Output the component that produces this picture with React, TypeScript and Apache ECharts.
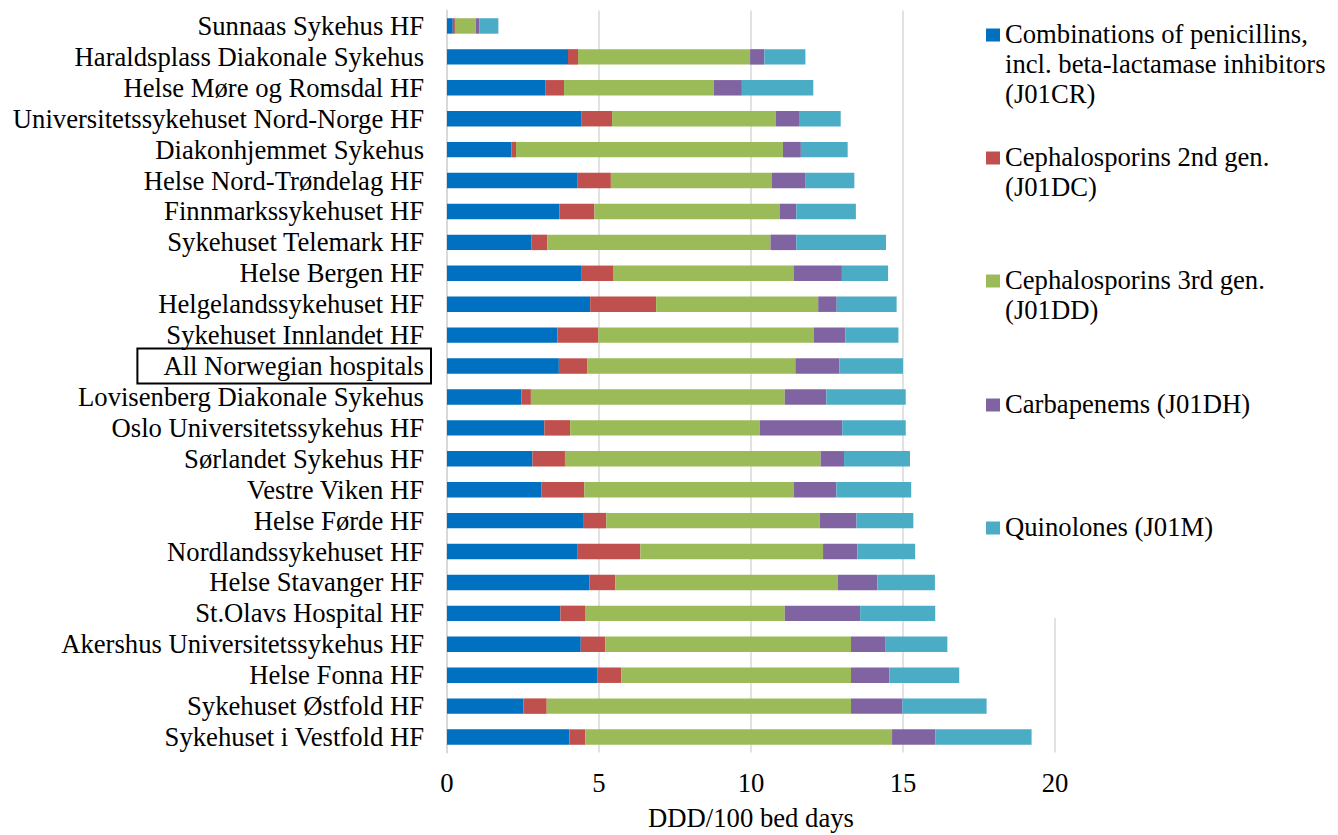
import React, { useEffect, useRef } from "react";
import * as echarts from "echarts";

const categories = [
  "Sunnaas Sykehus HF",
  "Haraldsplass Diakonale Sykehus",
  "Helse Møre og Romsdal HF",
  "Universitetssykehuset Nord-Norge HF",
  "Diakonhjemmet Sykehus",
  "Helse Nord-Trøndelag HF",
  "Finnmarkssykehuset HF",
  "Sykehuset Telemark HF",
  "Helse Bergen HF",
  "Helgelandssykehuset HF",
  "Sykehuset Innlandet HF",
  "All Norwegian hospitals",
  "Lovisenberg Diakonale Sykehus",
  "Oslo Universitetssykehus HF",
  "Sørlandet Sykehus HF",
  "Vestre Viken HF",
  "Helse Førde HF",
  "Nordlandssykehuset HF",
  "Helse Stavanger HF",
  "St.Olavs Hospital HF",
  "Akershus Universitetssykehus HF",
  "Helse Fonna HF",
  "Sykehuset Østfold HF",
  "Sykehuset i Vestfold HF",
];

const j01cr = [0.19, 3.98, 3.23, 4.43, 2.12, 4.3, 3.7, 2.77, 4.41, 4.71, 3.63, 3.68, 2.45, 3.2, 2.81, 3.1, 4.5, 4.3, 4.68, 3.73, 4.4, 4.94, 2.51, 4.03];
const j01dc = [0.07, 0.33, 0.62, 1.0, 0.15, 1.09, 1.15, 0.53, 1.05, 2.17, 1.35, 0.93, 0.31, 0.85, 1.07, 1.42, 0.74, 2.06, 0.86, 0.81, 0.81, 0.79, 0.77, 0.52];
const j01dd = [0.69, 5.66, 4.92, 5.38, 8.78, 5.3, 6.09, 7.34, 5.94, 5.33, 7.08, 6.85, 8.35, 6.24, 8.41, 6.89, 7.02, 6.01, 7.32, 6.57, 8.08, 7.56, 10.01, 10.09];
const j01dh = [0.11, 0.47, 0.93, 0.77, 0.59, 1.09, 0.55, 0.85, 1.59, 0.61, 1.04, 1.45, 1.37, 2.71, 0.77, 1.4, 1.21, 1.13, 1.3, 2.48, 1.14, 1.26, 1.69, 1.42];
const j01m = [0.63, 1.35, 2.35, 1.37, 1.54, 1.62, 1.96, 2.95, 1.52, 1.97, 1.75, 2.09, 2.61, 2.09, 2.17, 2.46, 1.87, 1.9, 1.89, 2.47, 2.03, 2.3, 2.77, 3.17];

const seriesNames = [
  "Combinations of penicillins,\nincl. beta-lactamase inhibitors\n(J01CR)",
  "Cephalosporins 2nd gen.\n(J01DC)",
  "Cephalosporins 3rd gen.\n(J01DD)",
  "Carbapenems (J01DH)",
  "Quinolones (J01M)",
];
const seriesColors = ["#0070C0", "#C0504D", "#9BBB59", "#8064A2", "#4BACC6"];
const seriesData = [j01cr, j01dc, j01dd, j01dh, j01m];

const xTicks = [0, 5, 10, 15, 20];
const xAxisName = "DDD/100 bed days";
const highlighted = "All Norwegian hospitals";

const FONT = "'Liberation Serif', 'Times New Roman', serif";
const FS = 26.67;
const legendCenters = [35, 158, 281, 405, 528];

export default function App() {
  const ref = useRef<HTMLDivElement>(null);

  useEffect(() => {
    document.body.style.margin = "0";
    if (!ref.current) return;
    const chart = echarts.init(ref.current, undefined, { renderer: "svg" });

    const legendGraphics: any[] = [];
    seriesNames.forEach((name, i) => {
      const c = legendCenters[i];
      legendGraphics.push({
        type: "rect",
        z: 5,
        silent: true,
        shape: { x: 986, y: c - 6.5, width: 14, height: 13 },
        style: { fill: seriesColors[i] },
      });
      legendGraphics.push({
        type: "text",
        z: 5,
        silent: true,
        x: 1005,
        y: c - 16,
        style: {
          text: name,
          fontFamily: FONT,
          fontSize: FS,
          lineHeight: 30,
          fill: "#000",
          align: "left",
          verticalAlign: "top",
        },
      });
    });

    const option: any = {
      animation: false,
      backgroundColor: "#fff",
      textStyle: { fontFamily: FONT },
      grid: {
        left: 447,
        right: 283,
        top: 10.5,
        bottom: 82.5,
        containLabel: false,
        outerBoundsMode: "none",
      },
      legend: { show: false, data: seriesNames },
      graphic: [
        {
          type: "rect",
          z: 1,
          silent: true,
          shape: { x: 975, y: 0, width: 363, height: 618 },
          style: { fill: "#fff" },
        },
        ...legendGraphics,
      ],
      xAxis: {
        type: "value",
        min: xTicks[0],
        max: xTicks[xTicks.length - 1],
        interval: 5,
        axisLine: { show: false },
        axisTick: { show: false },
        axisLabel: { fontFamily: FONT, fontSize: FS, color: "#000", margin: 17 },
        splitLine: { show: true, lineStyle: { color: "#d9d9d9", width: 1.5 } },
        name: xAxisName,
        nameLocation: "middle",
        nameGap: 52,
        nameTextStyle: { fontFamily: FONT, fontSize: FS, color: "#000" },
      },
      yAxis: {
        type: "category",
        data: categories,
        inverse: true,
        axisLine: { show: true, lineStyle: { color: "#d9d9d9", width: 2 } },
        axisTick: { show: false },
        axisLabel: {
          interval: 0,
          hideOverlap: false,
          fontFamily: FONT,
          fontSize: FS,
          color: "#000",
          margin: 16,
          formatter: (v: string) => (v === highlighted ? `{b|${v}}` : `{n|${v}}`),
          rich: {
            n: { fontFamily: FONT, fontSize: FS, color: "#000", padding: [0, 7, 0, 0] },
            b: {
              fontFamily: FONT,
              fontSize: FS,
              color: "#000",
              lineHeight: 26,
              borderColor: "#000",
              borderWidth: 2,
              padding: [4, 7, 4, 26],
            },
          },
        },
      },
      series: seriesNames.map((name, i) => ({
        name,
        type: "bar",
        stack: "total",
        barWidth: "50%",
        data: seriesData[i],
        itemStyle: { color: seriesColors[i] },
      })),
    };

    chart.setOption(option);
    return () => chart.dispose();
  }, []);

  return <div ref={ref} style={{ width: 1338, height: 835 }} />;
}
